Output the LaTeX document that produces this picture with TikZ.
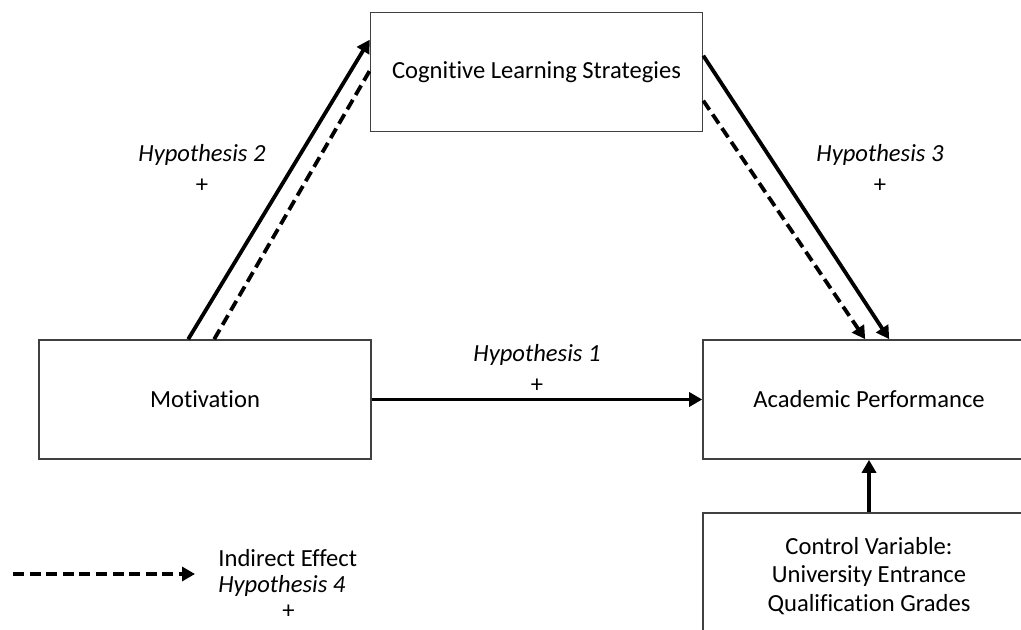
\documentclass[tikz,border=0pt]{standalone}
\usepackage{fontspec}
\setmainfont{Carlito}[Ligatures=NoCommon]
\usetikzlibrary{arrows.meta}
\begin{document}
\begin{tikzpicture}[x=0.5pt,y=-0.5pt,
  box/.style={draw=black!75,line width=0.8pt,rectangle,minimum width=166pt,minimum height=59.5pt,inner sep=0pt,font=\fontsize{12.3}{14.5}\selectfont,align=center},
  solidarrow/.style={line width=1.9pt,-{Triangle[length=6.5pt,width=7pt]}},
  dasharrow/.style={line width=1.9pt,dash pattern=on 5.5pt off 2.8pt,-{Triangle[length=6.5pt,width=7pt]}},
  dashplain/.style={line width=1.9pt,dash pattern=on 5.5pt off 2.8pt},
  hyp/.style={font=\fontsize{12.3}{15.5}\selectfont,align=center,inner sep=0pt}]
\clip (0,0) rectangle (1021,630);
\fill[white] (0,0) rectangle (1021,630);
\node[box] (cog) at (536.5,72) {Cognitive Learning Strategies};
\node[box] (mot) at (205,399.5) {Motivation};
\node[box] (ap) at (869,399.5) {Academic Performance};
\node[box] (ctrl) at (869,572.5) {};
\node[hyp,font=\fontsize{12.3}{14.3}\selectfont] (ctrltext) at (869,576) {Control Variable:\\University Entrance\\Qualification Grades};
% arrows
\draw[solidarrow] ([xshift=75pt]mot.north west) -- ([yshift=-14pt]cog.north west);
\draw[dashplain] ([xshift=88pt]mot.north west) -- ([yshift=-29.5pt]cog.north west);
\draw[solidarrow] ([yshift=-22pt]cog.north east) -- ([xshift=93.5pt]ap.north west);
\draw[dasharrow] ([yshift=-44.5pt]cog.north east) -- ([xshift=81.5pt]ap.north west);
\draw[solidarrow] (mot.east) -- (ap.west);
\draw[solidarrow] (ctrl.north) -- (ap.south);
% labels
\node[hyp] (h2) at (202,168) {\textit{Hypothesis 2}\\+};
\node[hyp] (h3) at (880,168) {\textit{Hypothesis 3}\\+};
\node[hyp] (h1) at (537,368) {\textit{Hypothesis 1}\\+};
% legend
\coordinate (l1) at (13,574);
\coordinate (l2) at (195,574);
\draw[dasharrow] (l1) -- (l2);
\node[hyp,font=\fontsize{12.3}{13}\selectfont,align=left,anchor=west] (leg) at (218,584) {Indirect Effect\\\textit{Hypothesis 4}\\\hspace*{32pt}+};
\end{tikzpicture}
\end{document}
